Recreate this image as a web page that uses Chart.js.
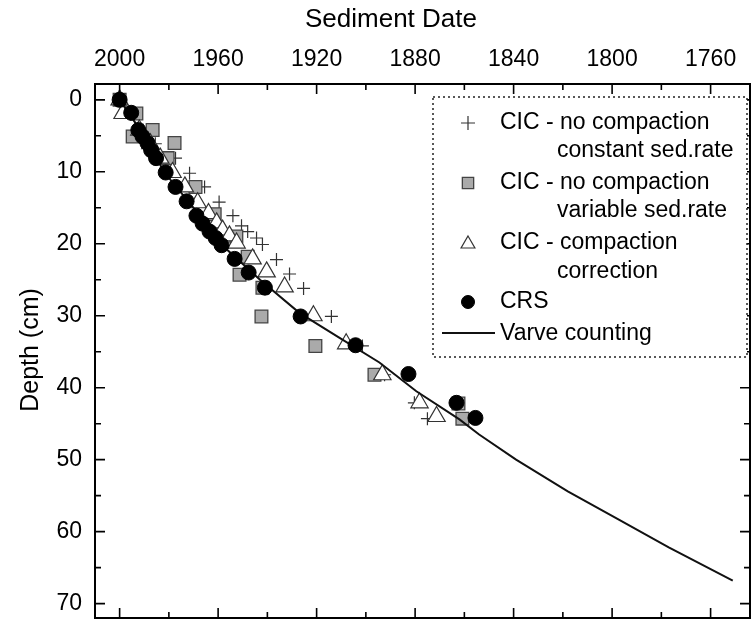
<!DOCTYPE html>
<html>
<head>
<meta charset="utf-8">
<script src="https://cdn.jsdelivr.net/npm/chart.js@4"></script>
<style>body{margin:0;background:#fff}</style>
</head>
<body>
<canvas id="depth-chart" width="752" height="620"></canvas>
<script>
// CIC - no compaction, constant sed. rate (+)
const constYears  = [2000, 1995.5, 1990.5, 1985.5, 1977.3, 1971.6, 1965.5, 1959.6, 1954.0, 1950.5, 1948.0, 1944.4, 1942.0, 1936.3, 1931.0, 1925.3, 1914.0, 1901.4, 1892.4, 1880.3, 1875.0];
const constDepths = [0, 2.0, 4.2, 6.1, 8.1, 10.2, 12.1, 14.2, 16.1, 17.5, 18.3, 19.2, 20.1, 22.2, 24.2, 26.2, 30.1, 34.2, 38.2, 42.1, 44.3];
// CIC - no compaction, variable sed. rate (squares)
const varYears  = [2000, 1993.2, 1994.7, 1986.6, 1977.7, 1980.5, 1969.2, 1961.4, 1952.6, 1948.0, 1951.3, 1942.0, 1942.4, 1920.5, 1896.5, 1862.4, 1860.8];
const varDepths = [0, 1.9, 5.1, 4.2, 6.0, 8.1, 12.1, 15.9, 19.0, 21.8, 24.3, 26.1, 30.1, 34.2, 38.2, 42.2, 44.3];
// CIC - compaction correction (triangles)
const compYears  = [2000, 1998.8, 1992.0, 1987.5, 1983.5, 1978.5, 1973.5, 1968.3, 1963.9, 1960.6, 1958.2, 1955.4, 1952.5, 1946.0, 1940.3, 1933.0, 1921.3, 1908.0, 1893.3, 1878.2, 1871.3];
const compDepths = [0, 1.9, 4.2, 6.1, 8.1, 10.1, 12.1, 14.3, 15.8, 17.1, 18.1, 18.9, 19.9, 22.1, 23.9, 26.0, 30.0, 33.9, 38.2, 42.1, 44.0];
// CRS (black dots)
const crsYears  = [2000, 1995.3, 1992.4, 1990.7, 1988.7, 1987.2, 1985.2, 1981.3, 1977.3, 1972.8, 1968.8, 1966.3, 1963.5, 1961.0, 1958.6, 1953.3, 1947.6, 1941.0, 1926.5, 1904.2, 1882.7, 1863.2, 1855.5];
const crsDepths = [0, 1.8, 4.2, 5.1, 6.0, 7.0, 8.1, 10.1, 12.1, 14.1, 16.1, 17.2, 18.3, 19.2, 20.2, 22.1, 24.0, 26.1, 30.1, 34.1, 38.1, 42.1, 44.2];
// varve counting
const varveYears  = [2000, 1990, 1982, 1970, 1959, 1943, 1927, 1911, 1894.5, 1879.5, 1862, 1854, 1839, 1818, 1798, 1777, 1751];
const varveDepths = [0, 5, 10, 15, 20, 25, 29.6, 33, 36.5, 40.5, 44.4, 46.5, 50, 54.4, 58.2, 62.2, 66.8];

const pairs = (xs, ys) => xs.map((v, i) => ({x: v, y: ys[i]}));

Chart.defaults.font.family = '"Liberation Sans", Arial, sans-serif';
Chart.defaults.color = '#000';

const styles = {
    plus:  {pointStyle: 'cross', radius: 6.5, borderWidth: 1.2, borderColor: '#333', backgroundColor: '#333'},
    sq:    {pointStyle: 'rect', radius: 9, borderWidth: 1.3, borderColor: '#444', backgroundColor: '#aaa'},
    tri:   {pointStyle: 'triangle', radius: 10, borderWidth: 1.2, borderColor: '#333', backgroundColor: '#fff'},
    dot:   {pointStyle: 'circle', radius: 7.5, borderWidth: 1, borderColor: '#000', backgroundColor: '#000'}
};

const frameAndKey = {
    id: 'frameAndKey',
    afterDatasetsDraw(chart) {
        const {ctx, chartArea: a, scales: {x, y}} = chart;
        ctx.save();
        ctx.strokeStyle = '#000';
        ctx.lineWidth = 2;
        ctx.strokeRect(a.left, a.top, a.right - a.left, a.bottom - a.top);

        // inward ticks, majors on labels, minors half way
        ctx.lineWidth = 1.6;
        ctx.beginPath();
        const xt = x.ticks.map(t => t.value);
        xt.forEach((v, i) => {
            const px = x.getPixelForValue(v);
            ctx.moveTo(px, a.top); ctx.lineTo(px, a.top + 10);
            ctx.moveTo(px, a.bottom); ctx.lineTo(px, a.bottom - 10);
            if (i > 0) {
                const pm = x.getPixelForValue((v + xt[i - 1]) / 2);
                ctx.moveTo(pm, a.top); ctx.lineTo(pm, a.top + 6);
                ctx.moveTo(pm, a.bottom); ctx.lineTo(pm, a.bottom - 6);
            }
        });
        const yt = y.ticks.map(t => t.value);
        yt.forEach((v, i) => {
            const py = y.getPixelForValue(v);
            ctx.moveTo(a.left, py); ctx.lineTo(a.left + 10, py);
            ctx.moveTo(a.right, py); ctx.lineTo(a.right - 10, py);
            if (i > 0) {
                const pm = y.getPixelForValue((v + yt[i - 1]) / 2);
                ctx.moveTo(a.left, pm); ctx.lineTo(a.left + 6, pm);
                ctx.moveTo(a.right, pm); ctx.lineTo(a.right - 6, pm);
            }
        });
        ctx.stroke();

        // axis titles
        ctx.fillStyle = '#000';
        ctx.font = '26px "Liberation Sans", Arial, sans-serif';
        ctx.textAlign = 'center';
        ctx.textBaseline = 'middle';
        ctx.fillText('Sediment Date', 391, 20);
        ctx.font = '25px "Liberation Sans", Arial, sans-serif';
        ctx.save();
        ctx.translate(31, 350);
        ctx.rotate(-Math.PI / 2);
        ctx.fillText('Depth (cm)', 0, 0);
        ctx.restore();

        // legend box
        ctx.fillStyle = '#fff';
        ctx.fillRect(433, 97, 314, 260);
        ctx.setLineDash([2, 3]);
        ctx.lineWidth = 1.5;
        ctx.strokeStyle = '#222';
        ctx.strokeRect(433, 97, 314, 260);
        ctx.setLineDash([]);

        const draw = Chart.helpers.drawPoint;
        const sym = (s, r, px, py) => {
            ctx.strokeStyle = s.borderColor; ctx.fillStyle = s.backgroundColor; ctx.lineWidth = s.borderWidth;
            draw(ctx, {pointStyle: s.pointStyle, radius: r, borderWidth: s.borderWidth}, px, py);
        };
        sym(styles.plus, 7, 468, 123);
        sym(styles.sq, 8, 468, 183);
        sym(styles.tri, 8, 468, 244);
        sym(styles.dot, 6.5, 468, 302);
        ctx.strokeStyle = '#111';
        ctx.lineWidth = 2;
        ctx.beginPath(); ctx.moveTo(442, 333); ctx.lineTo(495, 333); ctx.stroke();

        ctx.fillStyle = '#000';
        ctx.font = '23px "Liberation Sans", Arial, sans-serif';
        ctx.textAlign = 'left';
        [['CIC - no compaction', 500, 123], ['constant sed.rate', 557, 151],
         ['CIC - no compaction', 500, 183], ['variable sed.rate', 557, 211],
         ['CIC - compaction', 500, 243], ['correction', 557, 272],
         ['CRS', 500, 302], ['Varve counting', 500, 334]].forEach(([t, tx, ty]) => ctx.fillText(t, tx, ty));
        ctx.restore();
    }
};

const mk = (label, xs, ys, s, order) => ({
    label, data: pairs(xs, ys), order,
    pointStyle: s.pointStyle, pointRadius: s.radius, pointBorderWidth: s.borderWidth,
    pointBorderColor: s.borderColor, pointBackgroundColor: s.backgroundColor,
    borderColor: s.borderColor, backgroundColor: s.backgroundColor
});

new Chart(document.getElementById('depth-chart'), {
    type: 'scatter',
    data: {
        datasets: [
            mk('CRS', crsYears, crsDepths, styles.dot, 0),
            {
                type: 'line', label: 'Varve counting', order: 1,
                data: pairs(varveYears, varveDepths),
                borderColor: '#111', borderWidth: 2, pointRadius: 0, tension: 0, fill: false
            },
            mk('CIC - compaction correction', compYears, compDepths, styles.tri, 2),
            mk('CIC - no compaction variable sed.rate', varYears, varDepths, styles.sq, 3),
            mk('CIC - no compaction constant sed.rate', constYears, constDepths, styles.plus, 4)
        ]
    },
    options: {
        responsive: false,
        animation: false,
        layout: {autoPadding: false, padding: {left: 0, right: 2, top: 0, bottom: 2}},
        plugins: {legend: {display: false}, tooltip: {enabled: false}},
        scales: {
            x: {
                type: 'linear', position: 'top', reverse: true,
                min: 1744, max: 2010,
                grid: {display: false, drawTicks: false}, border: {display: false},
                ticks: {stepSize: 40, includeBounds: false, padding: 11, font: {size: 23}, callback: v => String(v)},
                afterFit(scale) { scale.height = 84; scale.paddingLeft = 0; scale.paddingRight = 0; }
            },
            y: {
                type: 'linear', reverse: true,
                min: -2.2, max: 72,
                grid: {display: false, drawTicks: false}, border: {display: false},
                ticks: {stepSize: 10, includeBounds: false, padding: 13, font: {size: 23}, callback: v => String(v)},
                afterFit(scale) { scale.width = 95; scale.paddingTop = 0; scale.paddingBottom = 0; }
            }
        }
    },
    plugins: [frameAndKey]
});
</script>
</body>
</html>
